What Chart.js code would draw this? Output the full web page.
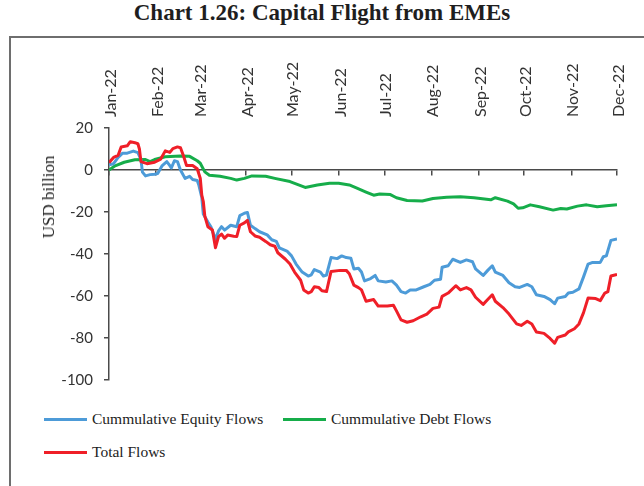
<!DOCTYPE html>
<html>
<head>
<meta charset="utf-8">
<script src="https://cdn.jsdelivr.net/npm/chart.js@4.4.0/dist/chart.umd.min.js"></script>
<style>
  html, body { margin: 0; padding: 0; background: #fff; width: 644px; height: 486px; overflow: hidden; position: relative; }
  .title { position: absolute; left: 0; top: 0px; width: 644px; text-align: center; font: bold 23px "Liberation Serif", serif; color: #1e1e1e; }
  .box { position: absolute; left: 9px; top: 36px; width: 700px; height: 500px; border: 2px solid #6e6e6e; box-sizing: border-box; }
  #chart { position: absolute; left: 0; top: 0; }
  .ytitle { position: absolute; left: 49px; top: 197px; transform: translate(-50%, -50%) rotate(-90deg); font: 17px "Liberation Serif", serif; color: #222; white-space: nowrap; }
  .legend-item { position: absolute; height: 20px; display: flex; align-items: center; white-space: nowrap; font: 15.5px "Liberation Serif", serif; color: #222; }
  .legend-swatch { width: 43px; height: 3px; margin-right: 5px; }
</style>
</head>
<body>
<div class="title">Chart 1.26: Capital Flight from EMEs</div>
<div class="box"></div>
<canvas id="chart" width="644" height="400"></canvas>
<div class="ytitle">USD billion</div>
<div id="legend"></div>

<script>
// ── Data (day of year 2022, USD billion) ─────────────────
const monthDays   = [0, 31, 59, 90, 120, 151, 181, 212, 243, 273, 304, 334];
const monthLabels = ["Jan-22", "Feb-22", "Mar-22", "Apr-22", "May-22", "Jun-22",
                     "Jul-22", "Aug-22", "Sep-22", "Oct-22", "Nov-22", "Dec-22"];
const yTicks = [20, 0, -20, -40, -60, -80, -100];

const seriesNames  = ["Cummulative Equity Flows", "Cummulative Debt Flows", "Total Flows"];
const seriesColors = ["#4d9bd8", "#16ad4a", "#ef1f28"];

const equityDays = [0,3,6,9,12,16,19,21,22,24,27,30,32,35,38,40,41,43,45,47,50,53,55,58,59,61,62,65,67,70,
  72,74,76,80,84,86,89,91,93,96,99,104,107,110,112,117,120,123,127,131,133,135,139,141,143,146,150,153,156,159,
  161,164,166,168,172,175,177,182,186,189,192,195,198,202,207,211,214,218,219,223,226,231,235,239,241,246,249,252,254,259,
  263,267,270,275,278,281,286,290,293,295,300,302,305,309,312,315,318,323,325,327,330,334];
const equityFlows = [2.5,3,6,8,8,9,8.3,5,-1,-2.8,-2.2,-2,-1.7,2.1,4,2.1,1,4.4,4,0,-4,-3,-4.5,-5,-7,-13,-21,-24.8,-27,-33,
  -29,-27,-28.6,-26.3,-27,-21.7,-20.6,-20.2,-26.3,-27.9,-29.4,-30.9,-33.2,-34,-37.1,-38.6,-40.9,-44.8,-48.6,-50.5,-49.9,-47.4,-48.6,-50.5,-50,-41.7,-42.2,-40.9,-41.7,-42,
  -47.1,-46.8,-48.6,-52.8,-51.7,-50.2,-52.8,-53.3,-52.8,-54.8,-57.9,-58.6,-57.1,-57.1,-55.6,-54.5,-52.5,-52,-46.3,-45.6,-42.5,-44,-42.8,-43.7,-47.1,-50.2,-47.8,-45.6,-48.6,-50.2,
  -53.7,-55.6,-55.9,-54.5,-55.6,-59.4,-60.2,-61.7,-63.7,-61,-60.2,-58.6,-58.2,-56.6,-50.9,-44.8,-44,-44,-41.3,-40.9,-33.5,-32.9];

const debtDays  = [0,4,10,17,24,27,30,37,47,53,58,60,63,66,73,80,84,89,94,103,109,119,129,137,145,151,158,163,169,174,
  178,185,189,196,206,213,222,231,240,251,254,262,266,269,272,277,283,292,297,301,308,314,321,327,334];
const debtFlows = [0,2,3.7,4.9,5,4,5,6.3,6.7,6.5,4.4,3.2,-0.9,-2.5,-3,-4,-4.8,-4,-2.8,-3,-4,-5.5,-8.3,-7.1,-6.3,-6.3,-7.1,-8.6,-10.5,-12,
  -11.4,-11.7,-13.2,-14.5,-14.8,-13.6,-13,-12.7,-13.2,-14.2,-13.2,-14.8,-16.1,-18.2,-18,-16.6,-17.5,-19.1,-18.3,-18.6,-17.2,-16.6,-17.5,-17,-16.6];

const totalDays  = [0,3,6,8,12,14,17,19,20,21,25,30,34,37,40,42,45,47,49,51,55,58,60,61,62,63,65,68,70,72,
  74,76,78,82,84,86,89,91,93,96,99,103,106,109,111,116,119,122,126,128,131,133,135,138,140,143,146,152,156,158,
  161,164,166,169,174,177,183,187,189,192,196,200,205,209,213,217,219,223,228,231,235,238,241,246,249,252,254,259,263,268,
  271,275,278,281,286,290,293,295,300,302,306,309,312,315,320,323,326,328,330,334];
const totalFlows = [3.5,6,7,11,11.5,13.5,13,12.5,10,4,3,3.7,5.2,9.1,8.4,10.2,11,10.6,6.7,2.1,2.1,0.6,-3.9,-12,-15,-22,-27,-28.6,-37,-31.7,
  -30.5,-32.5,-31,-31.5,-31.7,-26.3,-25.2,-24,-29.4,-31.4,-32,-34,-35.6,-36.3,-39.4,-42.5,-44.8,-48.6,-52.5,-57.1,-58.6,-57.9,-55.6,-56,-57.5,-57.9,-48.3,-47.8,-47.8,-49.4,
  -54.8,-56,-57.1,-62.5,-61.7,-64.8,-64.8,-64.4,-67.1,-71.4,-72.5,-71.8,-69.9,-68.6,-65.9,-65.3,-60.2,-58.6,-55.1,-57.1,-56,-57.1,-60.6,-64,-61.7,-59.4,-62.5,-65.5,-68.6,-73.3,
  -74,-72,-73.3,-77.1,-77.8,-80.2,-82.5,-79.7,-78.6,-77.1,-75.6,-73.3,-67.9,-60.9,-61.2,-62.2,-58.6,-57.9,-50.5,-49.7];

// ── Helpers ───────────────────────────────────────────────
const toPoints = (days, vals) => days.map((d, i) => ({ x: d, y: vals[i] }));
const axisColor = "#4a4a4a";
const tickFont  = { family: "Lato", size: 15 };

function lineSet(idx, days, vals, order) {
  return {
    label: seriesNames[idx],
    data: toPoints(days, vals),
    borderColor: seriesColors[idx],
    backgroundColor: seriesColors[idx],
    borderWidth: 3,
    borderJoinStyle: "round",
    pointRadius: 0,
    tension: 0,
    order: order,
  };
}

// ── Chart ─────────────────────────────────────────────────
new Chart(document.getElementById("chart"), {
  type: "line",
  data: {
    datasets: [
      lineSet(2, totalDays, totalFlows, 0),
      lineSet(0, equityDays, equityFlows, 1),
      lineSet(1, debtDays, debtFlows, 2),
    ],
  },
  options: {
    responsive: false,
    animation: false,
    layout: { padding: { left: 0, right: 27, top: 0, bottom: 12 } },
    plugins: { legend: { display: false }, tooltip: { enabled: false } },
    scales: {
      x: {
        type: "linear",
        position: "top",
        min: 0,
        max: 334,
        afterFit: (s) => { s.height = 128; },
        afterBuildTicks: (s) => { s.ticks = monthDays.map(v => ({ value: v })); },
        ticks: {
          autoSkip: false,
          minRotation: 90,
          maxRotation: 90,
          padding: 11,
          labelOffset: 21,
          color: "#333",
          font: { family: "Lato", size: 16 },
          callback: (v, i) => monthLabels[i],
        },
        grid: { display: false, drawTicks: false },
        border: { display: false },
      },
      x2: {
        type: "linear",
        position: { y: 0 },
        min: 0,
        max: 334,
        afterBuildTicks: (s) => { s.ticks = monthDays.map(v => ({ value: v })); },
        ticks: { display: false },
        grid: { drawOnChartArea: false, drawTicks: true, tickLength: 5, color: axisColor, lineWidth: 1.5 },
        border: { display: true, color: axisColor, width: 1.5 },
      },
      y: {
        type: "linear",
        position: "left",
        min: -100,
        max: 20,
        afterFit: (s) => { s.width = 109; },
        afterBuildTicks: (s) => { s.ticks = yTicks.map(v => ({ value: v })); },
        ticks: { padding: 11, color: "#333", font: tickFont },
        grid: { drawOnChartArea: false, tickLength: 5, color: axisColor, lineWidth: 1.5 },
        border: { color: axisColor, width: 1.5 },
      },
    },
  },
});

// ── Legend (HTML) ─────────────────────────────────────────
const legendSpots = [[44, 409], [283, 409], [44, 442]];
const legendEl = document.getElementById("legend");
seriesNames.forEach((name, i) => {
  const item = document.createElement("div");
  item.className = "legend-item";
  item.style.left = legendSpots[i][0] + "px";
  item.style.top  = legendSpots[i][1] + "px";
  const sw = document.createElement("div");
  sw.className = "legend-swatch";
  sw.style.background = seriesColors[i];
  const txt = document.createElement("span");
  txt.textContent = name;
  item.appendChild(sw);
  item.appendChild(txt);
  legendEl.appendChild(item);
});
</script>
</body>
</html>
